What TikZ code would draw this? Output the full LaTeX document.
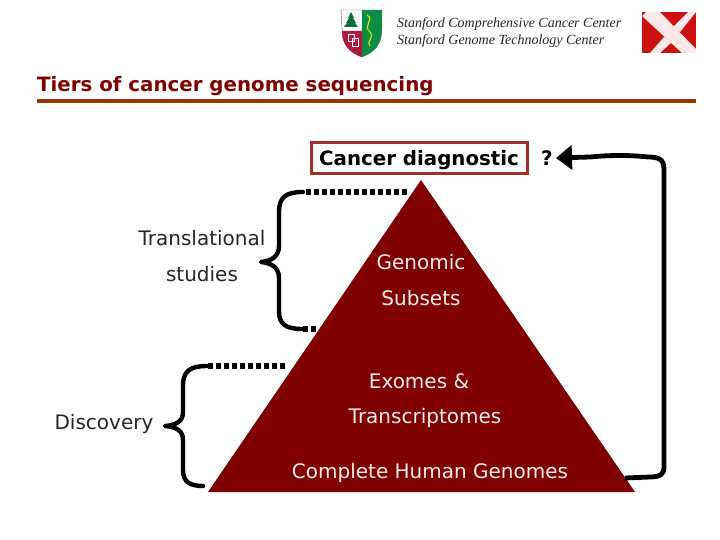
\documentclass[tikz,border=0pt]{standalone}
\usepackage{fontspec}
\setmainfont{DejaVu Sans}
\newfontfamily\hdrfont[Scale=1]{Liberation Serif}
\usetikzlibrary{arrows.meta}
\definecolor{maroonA}{HTML}{800000}
\definecolor{ruleA}{HTML}{993300}
\definecolor{boxA}{HTML}{A52A2A}
\definecolor{logoG}{HTML}{0E8C46}
\definecolor{logoR}{HTML}{B01A3C}
\definecolor{logoX}{HTML}{CC1010}
\tikzset{
  hdr/.style={font=\hdrfont\itshape\fontsize{14}{16}\selectfont,anchor=west,inner sep=0,text=black!85},
  lbl/.style={font=\fontsize{20}{22}\selectfont,inner sep=0,text=black!85},
  pyr/.style={font=\fontsize{20}{22}\selectfont,inner sep=0,text=white!92!maroonA},
  brk/.style={line width=4.4pt,line cap=round,line join=round,black},
  dot/.style={line width=5.2pt,black,dash pattern=on 5pt off 3pt},
}
\begin{document}
\begin{tikzpicture}[x=1pt,y=-1pt]
\useasboundingbox (0,0) rectangle (720,540);
\fill[white] (0,0) rectangle (720,540);
% shield logo
\fill[white,draw=black!60,line width=.4pt] (341,10) -- (362,10) -- (362,57) .. controls (350,53) and (342,45) .. (342,30) -- cycle;
\fill[logoG] (362,10) -- (382,10) -- (382,30) .. controls (382,45) and (374,53) .. (362,57) -- cycle;
\fill[logoR] (342,31) -- (362,31) -- (362,57) .. controls (350,53) and (342,45) .. (342,31) -- cycle;
\fill[logoG!80!black] (351,12) -- (354,18) -- (353,18) -- (356,23) -- (355,23) -- (358,27) -- (344,27) -- (347,23) -- (346,23) -- (349,18) -- (348,18) -- cycle;
\draw[yellow!80!green,line width=1.2pt] (367,15) .. controls (375,20) and (362,26) .. (370,32) .. controls (375,38) and (366,40) .. (370,46);
\draw[white,line width=.9pt] (348,34) rectangle (354,41) (352,38) rectangle (358,46);
% X logo
\fill[logoX] (642,12) rectangle (696,53);
\fill[white!90!logoX] (646,12) -- (660,12) -- (696,49) -- (696,53) -- (682,53) -- (642,16) -- cycle;
\fill[white!90!logoX] (664,37) -- (650,53) -- (660,53) -- (672,42) -- cycle;
\fill[white!90!logoX] (672,28) -- (688,12) -- (696,12) -- (680,32) -- cycle;
% header
\node[hdr] (h1) at (397,24) {Stanford Comprehensive Cancer Center};
\node[hdr] (h2) at (397,41) {Stanford Genome Technology Center};
\node[font=\bfseries\fontsize{19.8}{22}\selectfont,text=maroonA,anchor=west,inner sep=0] (title) at (37,86) {Tiers of cancer genome sequencing};
\fill[ruleA] (37,99.5) rectangle (696,103.5);
% pyramid
\fill[maroonA] (421,180) -- (635,492) -- (208,492) -- cycle;
\coordinate (apexdot) at (407,192);
\coordinate (tierdot) at (318,329);
\coordinate (tierdotb) at (285,366);
\coordinate (basedot) at (203,486);
\coordinate (baseR) at (625,478);
\coordinate (qtip) at (556,158);
% labels
\node[draw=boxA,line width=3pt,fill=white,minimum width=216pt,minimum height=31pt,inner sep=0] (cd) at (419,158.5) {};
\node[font=\bfseries\fontsize{19.8}{22}\selectfont,text=black,inner sep=0] (cdt) at (419,160) {Cancer diagnostic};
\node[font=\bfseries\fontsize{20}{22}\selectfont,inner sep=0] (q) at (547,158) {?};
\node[lbl] (tr) at (202,238.5) {Translational};
\node[lbl] (st) at (202,274.5) {studies};
\node[lbl] (di) at (104,423.5) {Discovery};
\node[pyr] (p1) at (421,262.5) {Genomic};
\node[pyr] (p2) at (421,298.5) {Subsets};
\node[pyr] (p3) at (419,381.5) {Exomes \&};
\node[pyr] (p4) at (425,417.5) {Transcriptomes};
\node[pyr] (p5) at (430,472.5) {Complete Human Genomes};
% upper bracket
\draw[dot] (apexdot) -- (303,192);
\draw[brk] (303,192) .. controls (286,192) and (279,197) .. (279,212) -- (279,246) .. controls (279,256) and (272,261) .. (261,262) .. controls (272,263) and (279,268) .. (279,278) -- (279,312) .. controls (279,324) and (286,329) .. (302,329);
\draw[dot] (303,329) -- (tierdot);
% lower bracket
\draw[dot] (tierdotb) -- (207,366);
\draw[brk] (207,366) .. controls (190,366) and (183,371) .. (183,386) -- (183,412) .. controls (183,421) and (177,425) .. (165,426) .. controls (177,427) and (183,431) .. (183,440) -- (183,470) .. controls (183,482) and (190,486) .. (basedot);
% feedback arrow
\draw[line width=4.8pt,line join=round,-{Stealth[length=16pt,width=24pt,inset=0pt]}] (baseR) -- (650,477) .. controls (660,477) and (664,474) .. (664,468) -- (664,170) .. controls (664,160) and (660,157) .. (648,157) .. controls (630,155) and (610,155) .. (590,157) -- (qtip);
\end{tikzpicture}
\end{document}
